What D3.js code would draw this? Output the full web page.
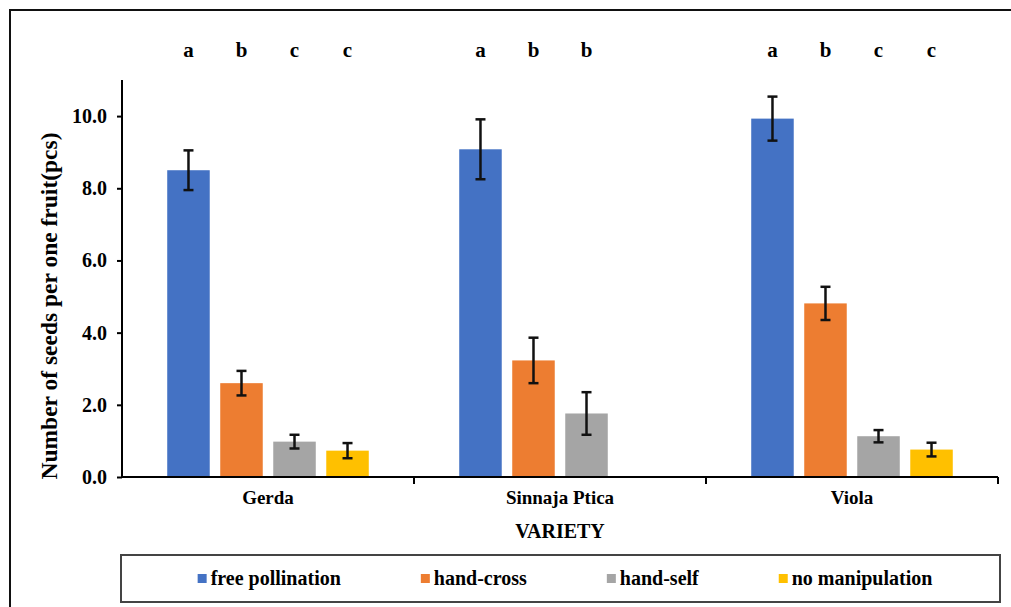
<!DOCTYPE html>
<html>
<head>
<meta charset="utf-8">
<script src="https://cdn.jsdelivr.net/npm/d3@7"></script>
<style>
  html, body { margin: 0; padding: 0; background: #fff; }
  svg { display: block; }
  svg text { font-family: "Liberation Serif", "Tinos", "DejaVu Serif", "Times New Roman", Times, serif !important; font-weight: bold; fill: #000; }
</style>
</head>
<body>
<svg id="chart" width="1011" height="607"></svg>
<script>
// Seed counts per fruit by variety and pollination treatment (mean ± error)
const varieties = ["Gerda", "Sinnaja Ptica", "Viola"];
const treatments = ["free pollination", "hand-cross", "hand-self", "no manipulation"];
const colors = ["#4472C4", "#ED7D31", "#A5A5A5", "#FFC000"];

// rows follow treatments, columns follow varieties; null = not tested
const freePollination = [8.50, 9.08, 9.93];
const handCross       = [2.60, 3.23, 4.81];
const handSelf        = [0.98, 1.76, 1.13];
const noManipulation  = [0.73, null, 0.76];

const freePollinationErr = [0.55, 0.83, 0.61];
const handCrossErr       = [0.34, 0.63, 0.46];
const handSelfErr        = [0.19, 0.59, 0.17];
const noManipulationErr  = [0.21, null, 0.19];

// significance letters above each bar
const gerdaLetters   = ["a", "b", "c", "c"];
const sinnajaLetters = ["a", "b", "b", null];
const violaLetters   = ["a", "b", "c", "c"];

const yTicks = [0, 2, 4, 6, 8, 10];
const yMax = 11;

const seriesValues = [freePollination, handCross, handSelf, noManipulation];
const seriesErrors = [freePollinationErr, handCrossErr, handSelfErr, noManipulationErr];
const letterRows = [gerdaLetters, sinnajaLetters, violaLetters];

const svg = d3.select("#chart");

// outer frame
svg.append("rect")
  .attr("x", 10).attr("y", 10).attr("width", 1010).attr("height", 620)
  .attr("fill", "none").attr("stroke", "#111").attr("stroke-width", 2);

const plot = { left: 122, right: 998, top: 80, bottom: 477 };

const x0 = d3.scaleBand().domain(varieties).range([plot.left, plot.right]).padding(0);
const x1 = d3.scaleBand().domain(treatments).range([0, x0.bandwidth()])
  .paddingInner(0.198).paddingOuter(0.853);
const y = d3.scaleLinear().domain([0, yMax]).range([plot.bottom, plot.top]);

// flatten into bar records
const bars = [];
varieties.forEach((v, vi) => {
  treatments.forEach((t, ti) => {
    const val = seriesValues[ti][vi];
    if (val == null) return;
    bars.push({ variety: v, treatment: t, ti, value: val, err: seriesErrors[ti][vi] });
  });
});

const cx = d => x0(d.variety) + x1(d.treatment) + x1.bandwidth() / 2;

// bars
svg.append("g").selectAll("rect").data(bars).join("rect")
  .attr("x", d => x0(d.variety) + x1(d.treatment))
  .attr("y", d => y(d.value))
  .attr("width", x1.bandwidth())
  .attr("height", d => y(0) - y(d.value))
  .attr("fill", d => colors[d.ti]);

// error bars
const eb = svg.append("g").attr("stroke", "#111").attr("stroke-width", 2.5).attr("fill", "none");
const cap = 5;
bars.forEach(d => {
  const xc = cx(d);
  const yt = y(d.value + d.err), yb = y(d.value - d.err);
  eb.append("line").attr("x1", xc).attr("x2", xc).attr("y1", yt).attr("y2", yb);
  eb.append("line").attr("x1", xc - cap).attr("x2", xc + cap).attr("y1", yt).attr("y2", yt);
  eb.append("line").attr("x1", xc - cap).attr("x2", xc + cap).attr("y1", yb).attr("y2", yb);
});

// y axis
const yAxis = svg.append("g")
  .attr("transform", `translate(${plot.left},0)`)
  .call(d3.axisLeft(y).tickValues(yTicks).tickFormat(d3.format(".1f")).tickSize(5).tickPadding(10));
yAxis.attr("font-family", null).attr("font-size", null);
yAxis.select(".domain").attr("stroke", "#000").attr("stroke-width", 2)
  .attr("d", `M0,${plot.top}V${plot.bottom}`);
yAxis.selectAll(".tick line").attr("stroke", "#000").attr("stroke-width", 2);
yAxis.selectAll(".tick text").attr("font-size", 20).attr("fill", "#000");

// x axis with category divider ticks
const xg = svg.append("g");
xg.append("line")
  .attr("x1", plot.left).attr("x2", plot.right)
  .attr("y1", y(0)).attr("y2", y(0))
  .attr("stroke", "#000").attr("stroke-width", 2);
varieties.forEach(v => {
  const xr = x0(v) + x0.bandwidth();
  xg.append("line").attr("x1", xr).attr("x2", xr)
    .attr("y1", y(0)).attr("y2", y(0) + 7)
    .attr("stroke", "#000").attr("stroke-width", 2);
});
xg.selectAll("text.cat").data(varieties).join("text")
  .attr("class", "cat")
  .attr("x", d => x0(d) + x0.bandwidth() / 2)
  .attr("y", 504)
  .attr("text-anchor", "middle")
  .attr("font-size", 19)
  .text(d => d);

// axis titles
svg.append("text")
  .attr("x", (plot.left + plot.right) / 2).attr("y", 538)
  .attr("text-anchor", "middle").attr("font-size", 20)
  .text("VARIETY");
svg.append("text")
  .attr("transform", `translate(57,306) rotate(-90)`)
  .attr("text-anchor", "middle").attr("font-size", 23.5)
  .text("Number of seeds per one fruit(pcs)");

// significance letters
const letterData = [];
varieties.forEach((v, vi) => {
  treatments.forEach((t, ti) => {
    const l = letterRows[vi][ti];
    if (l) letterData.push({ variety: v, treatment: t, letter: l });
  });
});
svg.append("g").selectAll("text").data(letterData).join("text")
  .attr("x", d => cx(d))
  .attr("y", 57)
  .attr("text-anchor", "middle")
  .attr("font-size", 21)
  .text(d => d.letter);

// legend
const lg = svg.append("g");
lg.append("rect")
  .attr("x", 121).attr("y", 555).attr("width", 879).attr("height", 47)
  .attr("fill", "#fff").attr("stroke", "#444").attr("stroke-width", 2);

const items = lg.selectAll("g.item").data(treatments).join("g").attr("class", "item");
items.append("rect")
  .attr("width", 9).attr("height", 9)
  .attr("y", 574)
  .attr("fill", (d, i) => colors[i]);
items.append("text")
  .attr("x", 13).attr("y", 585)
  .attr("font-size", 20)
  .text(d => d);

const gap = 80;
const widths = [];
items.each(function () {
  widths.push(13 + d3.select(this).select("text").node().getComputedTextLength());
});
const total = d3.sum(widths) + gap * (widths.length - 1);
let cursor = 565 - total / 2;
items.each(function (d, i) {
  d3.select(this).attr("transform", `translate(${cursor},0)`);
  cursor += widths[i] + gap;
});
</script>
</body>
</html>
